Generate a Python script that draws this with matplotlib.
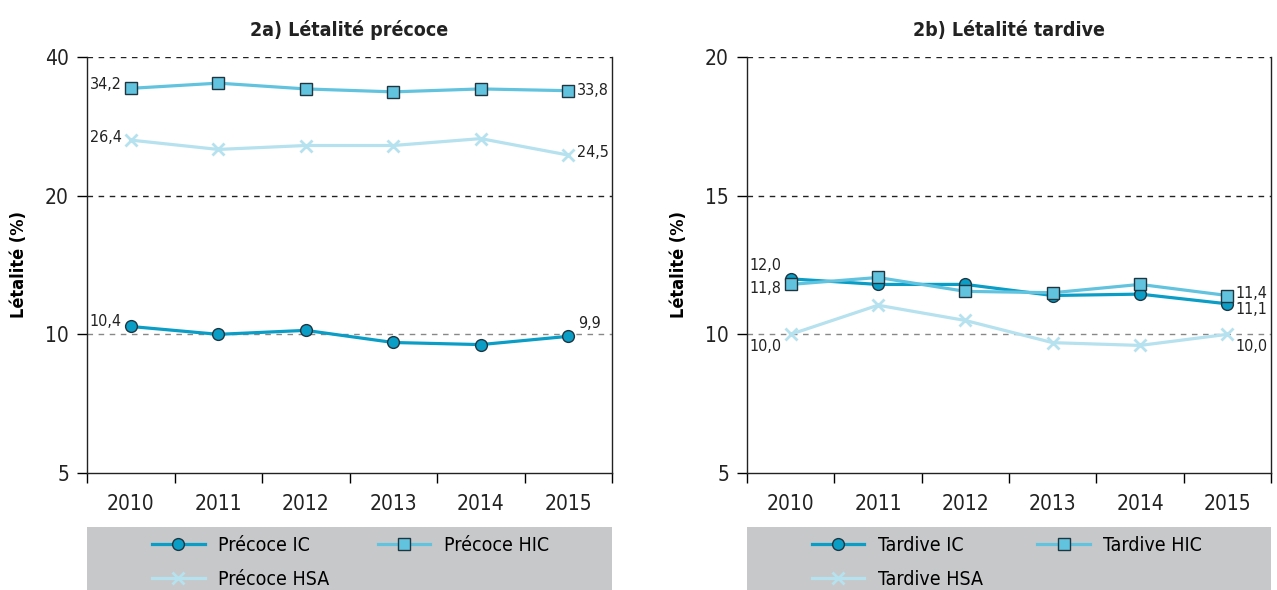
import matplotlib
matplotlib.use('Agg')
import matplotlib.pyplot as plt
from matplotlib.lines import Line2D
from matplotlib.patches import Rectangle
from matplotlib.ticker import FixedLocator, NullLocator, FixedFormatter

plt.rcParams['font.family'] = ['DejaVu Sans']
plt.rcParams['font.stretch'] = 'condensed'

years = [2010, 2011, 2012, 2013, 2014, 2015]

precoce_ic = [10.4, 10.0, 10.2, 9.6, 9.5, 9.9]
precoce_hic = [34.2, 35.1, 34.1, 33.6, 34.1, 33.8]
precoce_hsa = [26.4, 25.2, 25.7, 25.7, 26.6, 24.5]

tardive_ic = [12.0, 11.8, 11.8, 11.4, 11.45, 11.1]
tardive_hic = [11.8, 12.05, 11.55, 11.5, 11.8, 11.4]
tardive_hsa = [10.0, 11.05, 10.5, 9.7, 9.6, 10.0]

precoce_ticks = [5, 10, 20, 40]
tardive_ticks = [5, 10, 15, 20]

c_ic = '#0a9dc6'
c_hic = '#62c3df'
c_hsa = '#b6e1ee'
c_edge = '#1f3540'
c_legend = '#c7c8ca'


def fmt(v):
    return ('%.1f' % v).replace('.', ',')


def panel(ax, title, ic, hic, hsa, names, ticks, logy, notes):
    ax.plot(years, ic, color=c_ic, lw=2.3, marker='o', ms=8.5,
            mfc=c_ic, mec=c_edge, mew=1.0, zorder=4)
    ax.plot(years, hic, color=c_hic, lw=2.3, marker='s', ms=8,
            mfc=c_hic, mec=c_edge, mew=1.0, zorder=5)
    ax.plot(years, hsa, color=c_hsa, lw=2.3, marker='x', ms=8,
            mew=2.0, mec=c_hsa, zorder=3)

    if logy:
        ax.set_yscale('log', base=2)
    ax.set_ylim(ticks[0], ticks[-1])
    ax.yaxis.set_major_locator(FixedLocator(ticks))
    ax.yaxis.set_major_formatter(FixedFormatter([str(t) for t in ticks]))
    ax.yaxis.set_minor_locator(NullLocator())

    for t in ticks[1:]:
        col = '#888888' if t == 10 else '#222222'
        ax.axhline(t, color=col, lw=1.0, ls=(0, (4, 4)), zorder=1)

    ax.set_xlim(2009.5, 2015.5)
    ax.xaxis.set_major_locator(FixedLocator(years))
    ax.xaxis.set_minor_locator(FixedLocator([y - 0.5 for y in years] + [2015.5]))
    ax.tick_params(axis='x', which='major', length=0, pad=15, labelsize=15,
                   labelcolor='#222222')
    ax.tick_params(axis='x', which='minor', length=7, width=1.0, direction='out')
    ax.tick_params(axis='y', which='major', length=7, width=1.0, labelsize=15,
                   pad=6, labelcolor='#222222')

    ax.spines['top'].set_visible(False)
    for sp in ['left', 'right', 'bottom']:
        ax.spines[sp].set_linewidth(1.0)
        ax.spines[sp].set_color('#222222')

    ax.set_title(title, fontsize=14, fontweight='bold', pad=15, color='#222222')
    ax.set_ylabel('Létalité (%)', fontsize=13, fontweight='bold', labelpad=12)

    series = {'ic': ic, 'hic': hic, 'hsa': hsa}
    for key, i, dx, dy, ha in notes:
        v = series[key][i]
        ax.annotate(fmt(v), (years[i], v), xytext=(dx, dy),
                    textcoords='offset pixels', ha=ha, va='center',
                    fontsize=11.5, color='#222222', zorder=6)

    # grey legend band under the axes
    band = Rectangle((0, -0.32), 1, 0.19, transform=ax.transAxes,
                     facecolor=c_legend, edgecolor='none', clip_on=False, zorder=0)
    ax.add_patch(band)
    h_ic = Line2D([], [], color=c_ic, lw=2.3, marker='o', ms=8.5, mfc=c_ic, mec=c_edge)
    h_hic = Line2D([], [], color=c_hic, lw=2.3, marker='s', ms=8, mfc=c_hic, mec=c_edge)
    h_hsa = Line2D([], [], color=c_hsa, lw=2.3, marker='x', ms=8, mew=2.0)
    opts = dict(loc='upper left', frameon=False, fontsize=14, handlelength=2.7,
                labelspacing=0.75, handletextpad=0.7, borderaxespad=0.0,
                borderpad=0.0)
    leg1 = ax.legend([h_ic, h_hsa], [names[0], names[2]],
                     bbox_to_anchor=(0.124, -0.152), **opts)
    ax.add_artist(leg1)
    ax.legend([h_hic], [names[1]], bbox_to_anchor=(0.554, -0.152), **opts)


fig = plt.figure(figsize=(12.77, 5.90), dpi=100)
ax1 = fig.add_axes([87 / 1277, 1 - 473 / 590, 525 / 1277, 416 / 590])
ax2 = fig.add_axes([747 / 1277, 1 - 473 / 590, 524 / 1277, 416 / 590])

panel(ax1, '2a) Létalité précoce', precoce_ic, precoce_hic, precoce_hsa,
      ['Précoce IC', 'Précoce HIC', 'Précoce HSA'], precoce_ticks, True,
      [('hic', 0, -9, 4, 'right'), ('hsa', 0, -9, 3, 'right'),
       ('ic', 0, -9, 5, 'right'), ('hic', 5, 9, 0, 'left'),
       ('hsa', 5, 9, 3, 'left'), ('ic', 5, 10, 13, 'left')])

panel(ax2, '2b) Létalité tardive', tardive_ic, tardive_hic, tardive_hsa,
      ['Tardive IC', 'Tardive HIC', 'Tardive HSA'], tardive_ticks, False,
      [('ic', 0, -9, 13, 'right'), ('hic', 0, -9, -4, 'right'),
       ('hsa', 0, -9, -12, 'right'), ('hic', 5, 8, 2, 'left'),
       ('ic', 5, 8, -6, 'left'), ('hsa', 5, 8, -12, 'left')])

fig.savefig('out.png', dpi=100)
